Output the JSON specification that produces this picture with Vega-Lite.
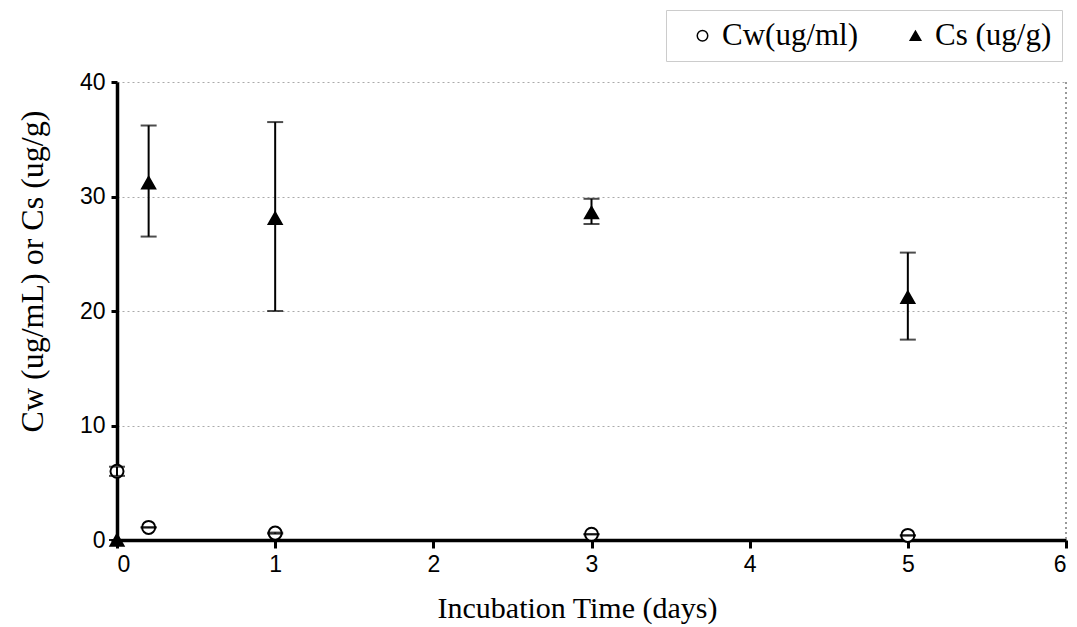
{
  "$schema": "https://vega.github.io/schema/vega-lite/v6.json",
  "width": 949,
  "height": 458,
  "autosize": "none",
  "padding": {"left": 117, "top": 82, "right": 11, "bottom": 87},
  "background": "white",
  "config": {"view": {"stroke": null}},
  "data": {"values": [
    {"t": 0, "series": "Cw(ug/ml)", "v": 6.0, "lo": 5.6, "hi": 6.4},
    {"t": 0.2, "series": "Cw(ug/ml)", "v": 1.1, "lo": 1.08, "hi": 1.12},
    {"t": 1, "series": "Cw(ug/ml)", "v": 0.6, "lo": 0.55, "hi": 0.65},
    {"t": 3, "series": "Cw(ug/ml)", "v": 0.5, "lo": 0.48, "hi": 0.52},
    {"t": 5, "series": "Cw(ug/ml)", "v": 0.4, "lo": 0.38, "hi": 0.42},
    {"t": 0, "series": "Cs (ug/g)", "v": 0, "lo": 0, "hi": 0},
    {"t": 0.2, "series": "Cs (ug/g)", "v": 31.2, "lo": 26.5, "hi": 36.2},
    {"t": 1, "series": "Cs (ug/g)", "v": 28.1, "lo": 20.0, "hi": 36.5},
    {"t": 3, "series": "Cs (ug/g)", "v": 28.6, "lo": 27.6, "hi": 29.8},
    {"t": 5, "series": "Cs (ug/g)", "v": 21.2, "lo": 17.5, "hi": 25.1}
  ]},
  "layer": [
    {
      "mark": {"type": "rule", "stroke": "#999", "strokeDash": [2, 3], "strokeWidth": 1},
      "encoding": {"x": {"datum": 6, "type": "quantitative", "scale": {"domain": [0, 6]}}}
    },
    {
      "mark": {"type": "point", "strokeWidth": 2, "size": 170, "opacity": 1},
      "encoding": {
        "x": {
          "field": "t", "type": "quantitative",
          "scale": {"domain": [0, 6], "nice": false, "zero": false},
          "axis": {
            "values": [0, 1, 2, 3, 4, 5, 6],
            "format": "d",
            "title": "Incubation Time (days)",
            "titleFont": "Liberation Serif", "titleFontSize": 30, "titleFontWeight": "normal", "titleColor": "black",
            "titleX": 460, "titleY": 68, "titleBaseline": "middle",
            "labelFont": "Liberation Sans", "labelFontSize": 23, "labelColor": "black", "labelPadding": 5,
            "domainColor": "black", "domainWidth": 3.5,
            "tickColor": "black", "tickWidth": 3, "tickSize": 8,
            "grid": false
          }
        },
        "y": {
          "field": "v", "type": "quantitative",
          "scale": {"domain": [0, 40], "nice": false},
          "axis": {
            "values": [0, 10, 20, 30, 40],
            "title": "Cw (ug/mL) or Cs (ug/g)",
            "titleFont": "Liberation Serif", "titleFontSize": 32, "titleFontWeight": "normal", "titleColor": "black",
            "titleX": -85, "titleY": 189, "titleAlign": "center", "titleBaseline": "middle", "titleAngle": 270,
            "labelFont": "Liberation Sans", "labelFontSize": 23, "labelColor": "black", "labelPadding": 6,
            "domainColor": "black", "domainWidth": 3.5,
            "tickColor": "black", "tickWidth": 3, "tickSize": 6,
            "grid": true, "gridColor": "#aaa", "gridDash": [2, 3], "gridWidth": 1
          }
        },
        "shape": {
          "field": "series", "type": "nominal",
          "scale": {"domain": ["Cw(ug/ml)", "Cs (ug/g)"], "range": ["circle", "triangle-up"]},
          "legend": {
            "title": null, "orient": "none", "direction": "horizontal",
            "legendX": 549, "legendY": -72,
            "labelFont": "Liberation Serif", "labelFontSize": 31, "labelColor": "black",
            "symbolSize": 110, "symbolStrokeWidth": 1.5,
            "symbolOffset": 11,
            "columnPadding": 30, "labelOffset": 4,
            "strokeColor": "#ccc", "padding": 10
          }
        },
        "fill": {
          "field": "series", "type": "nominal",
          "scale": {"domain": ["Cw(ug/ml)", "Cs (ug/g)"], "range": ["white", "black"]}
        },
        "stroke": {
          "field": "series", "type": "nominal",
          "scale": {"domain": ["Cw(ug/ml)", "Cs (ug/g)"], "range": ["black", "black"]}
        }
      }
    },
    {
      "mark": {"type": "rule", "stroke": "black", "strokeWidth": 2},
      "encoding": {
        "x": {"field": "t", "type": "quantitative"},
        "y": {"field": "lo", "type": "quantitative"},
        "y2": {"field": "hi"}
      }
    },
    {
      "mark": {"type": "tick", "orient": "horizontal", "size": 16, "thickness": 2, "color": "black"},
      "encoding": {
        "x": {"field": "t", "type": "quantitative"},
        "y": {"field": "hi", "type": "quantitative"}
      }
    },
    {
      "mark": {"type": "tick", "orient": "horizontal", "size": 16, "thickness": 2, "color": "black"},
      "encoding": {
        "x": {"field": "t", "type": "quantitative"},
        "y": {"field": "lo", "type": "quantitative"}
      }
    }
  ]
}
